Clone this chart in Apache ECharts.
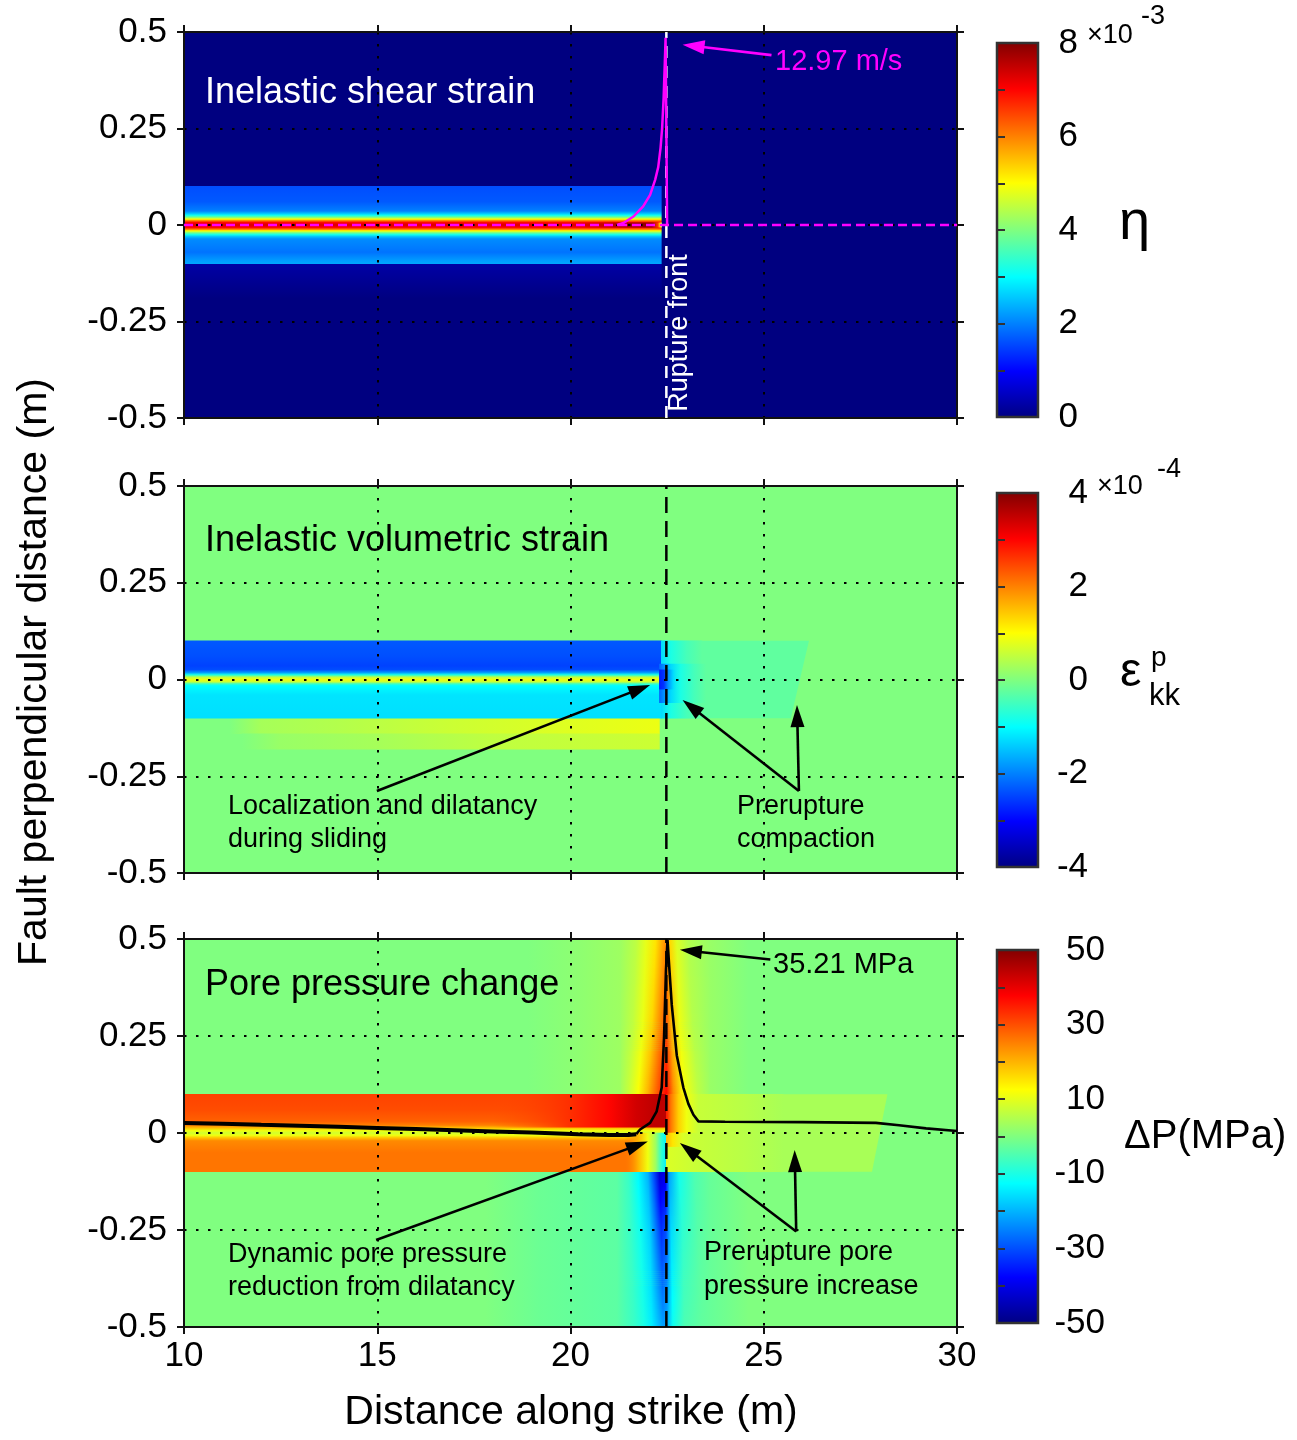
<!DOCTYPE html>
<html><head><meta charset="utf-8">
<script src="https://cdn.jsdelivr.net/npm/echarts@6/dist/echarts.min.js"></script>
<style>html,body{margin:0;padding:0;background:#fff}#c{width:1297px;height:1440px}</style>
</head><body><div id="c"></div><script>
// ---------------- data ----------------
const xRange = [10, 30];
const yRange = [-0.5, 0.5];
const ruptureFront = 22.48;

// colour bar ranges and tick labels
const etaRange = [0, 8];            // x 1e-3
const ekkRange = [-4, 4];           // x 1e-4
const dpRange = [-50, 50];          // MPa
const etaTickLabels = [0, 2, 4, 6, 8];
const ekkTickLabels = [-4, -2, 0, 2, 4];
const dpTickLabels = [-50, -30, -10, 10, 30, 50];

// field patches: ['r',x0,x1,y0,y1,v] | ['q',xTL,xTR,xBR,xBL,yTop,yBot,v]
// ['gx',y0,y1,[[x,v(,alpha)]...]] horizontal profile | ['gy',x0,x1,[[y,v]...]] vertical profile
// ['gxy',yTop,yBot,profileTop,profileBottom] field shaded between two horizontal profiles
const etaPatches = [
  ['r', 10, 30, -0.5, 0.5, 0],
  ['gy', 10, 22.35, [[-0.1, 0.3], [-0.19, 0]]],
  ['gy', 10, 22.35, [[0.1,1.6],[0.06,1.7],[0.036,2.0],[0.03,2.5],[0.025,3.1],[0.02,3.9],[0.015,5.0],[0.011,6.1],[0.006,7.0],[0,7.3],[-0.006,7.0],[-0.011,6.1],[-0.015,5.0],[-0.02,3.9],[-0.025,3.1],[-0.03,2.5],[-0.036,2.1],[-0.07,1.9],[-0.09,2.2],[-0.1,2.3]]],
  ['gx', -0.006, 0.006, [[20.0,7.3,0],[21.4,7.7],[22.1,7.9],[22.25,6.6],[22.32,5.0],[22.36,4.0]]]
];
const ekkPatches = [
  ['r', 10, 30, -0.5, 0.5, 0],
  ['gx', -0.14, -0.1, [[11.2,0],[12,0.3],[14,0.4],[17,0.6],[20,0.75],[22.3,0.85]]],
  ['gx', -0.18, -0.14, [[11.5,0],[12.5,0.2],[15,0.3],[18,0.5],[22.3,0.6]]],
  ['gy', 10, 22.35, [[0.1,-2.3],[0.06,-2.38],[0.035,-2.48],[0.025,-2.4],[0.018,-1.8],[0.012,-0.8],[0.006,0.5],[0,0.9],[-0.006,0.6],[-0.011,-0.5],[-0.016,-1.0],[-0.04,-1.2],[-0.1,-1.25]]],
  ['q', 22.35, 26.17, 25.7, 22.35, 0.1, -0.1, -0.25],
  ['gx', 0.04, 0.1, [[22.35,-1.3],[22.6,-0.8],[23.0,-0.45],[23.4,-0.25]]],
  ['gx', -0.1, -0.06, [[22.35,-1.3],[22.6,-0.8],[23.0,-0.45],[23.4,-0.25]]],
  ['gx', -0.06, 0.04, [[22.3,-2.2],[22.45,-1.8],[22.6,-1.3],[22.85,-0.8],[23.2,-0.45],[23.5,-0.25]]],
  ['gx', -0.025, 0.025, [[22.3,-2.8],[22.42,-2.6],[22.52,-1.9],[22.65,-1.3],[22.8,-0.8,0]]]
];
const dpUpper05 = [[21.3,3],[21.7,6],[21.95,10],[22.2,15],[22.38,21],[22.48,24],[22.58,16],[22.75,9],[23.05,5],[23.6,2.5]];
const dpUpper03 = [[21.3,3.2],[21.62,6.3],[21.88,10.5],[22.12,16.5],[22.33,24],[22.48,29],[22.61,19],[22.82,10.5],[23.15,5.2],[23.6,2.6]];
const dpUpper01 = [[21.3,3.5],[21.5,7],[21.75,12],[22.0,20],[22.25,29],[22.48,37],[22.66,24],[22.92,12],[23.3,6],[23.6,2.8]];
const dpLower01 = [[21.2,-3.5],[21.5,-7],[21.75,-13],[22.0,-20],[22.15,-30],[22.3,-42],[22.45,-40],[22.55,-22],[22.8,-11],[23.2,-5],[23.6,-2.5]];
const dpLower025 = [[21.2,-3.5],[21.55,-7],[21.8,-11],[22.05,-17],[22.2,-25],[22.35,-33],[22.47,-30],[22.6,-16],[22.9,-8],[23.3,-4],[23.6,-2.5]];
const dpLower05 = [[21.2,-3.5],[21.65,-7],[21.9,-10],[22.1,-14],[22.25,-18],[22.4,-22],[22.5,-20],[22.65,-11],[22.95,-5],[23.4,-3],[23.6,-2.5]];
const dpPatches = [
  ['r', 10, 30, -0.5, 0.5, 0],
  ['gx', 0.1, 0.5, [[18.9,0],[20.3,1.5],[21.3,3],[23.6,2.5],[24.6,0]]],
  ['gx', -0.5, -0.1, [[17.8,0],[19.2,-2],[21.2,-3.5],[23.6,-2.5],[24.6,0]]],
  ['gxy', 0.5, 0.3, dpUpper05, dpUpper03],
  ['gxy', 0.3, 0.1, dpUpper03, dpUpper01],
  ['gxy', -0.1, -0.25, dpLower01, dpLower025],
  ['gxy', -0.25, -0.5, dpLower025, dpLower05],
  ['gy', 10, 22.48, [[0.1,31],[0.06,30],[0.03,28],[0.02,25],[0.012,18],[0.006,11],[0,8],[-0.006,11],[-0.012,18],[-0.02,24],[-0.05,26],[-0.1,26]]],
  ['gx', 0.015, 0.1, [[18,30,0],[20,33],[21,37],[21.7,42],[22.2,44],[22.48,44]]],
  ['gx', -0.1, 0, [[21.4,26,0],[21.75,20],[22.0,11],[22.2,3],[22.35,-8],[22.48,-14]]],
  ['q', 22.48, 28.2, 27.8, 22.48, 0.1, -0.1, 4],
  ['gx', -0.1, 0.1, [[22.48,9],[23.3,7],[24.5,5.5],[25.5,4]]],
  ['gx', 0, 0.1, [[22.48,36],[22.6,26],[22.8,17],[23.0,11],[23.3,7]]],
  ['gx', -0.035, 0, [[22.48,20],[22.65,15],[22.9,9],[23.2,7]]]
];

// curves
const slipZeroLine = [[10, 0], [30, 0]];
const slipRateCurve = [[21.2,0],[21.37,0.005],[21.63,0.022],[21.88,0.048],[22.06,0.078],[22.19,0.117],[22.27,0.15],[22.33,0.2],[22.37,0.25],[22.41,0.33],[22.44,0.42],[22.46,0.485],[22.5,0]];
const pressureSliding = [[10,0.026],[11,0.024],[12,0.021],[13,0.019],[14,0.016],[15,0.013],[16,0.010],[17,0.007],[18,0.004],[19,0.001],[20.2,-0.003],[21.0,-0.005],[21.5,-0.005],[21.7,-0.003]];
const pressureFront = [[21.7,-0.003],[21.8,0.009],[22.06,0.026],[22.23,0.056],[22.36,0.117],[22.42,0.245],[22.47,0.42],[22.51,0.497],[22.56,0.42],[22.62,0.33],[22.75,0.2],[22.92,0.117],[23.05,0.075],[23.18,0.047],[23.31,0.03],[24,0.029],[26,0.028],[27.9,0.026],[28.5,0.02],[29.2,0.012],[30,0.005]];

// annotation arrows [xFrom, yFrom, xTo, yTo]
const slipArrows = [[25.2, 0.44, 22.9, 0.467]];
const strainArrows = [[14.99,-0.288,22.06,-0.014],[25.91,-0.288,22.9,-0.053],[25.91,-0.288,25.86,-0.066]];
const pressureArrows = [[14.97,-0.276,22.0,-0.022],[25.84,-0.254,22.83,-0.026],[25.84,-0.254,25.8,-0.044],[25.17,0.447,22.83,0.472]];

// ---------------- drawing ----------------
const jetKnots = [[0,[0,0,0.5]],[0.125,[0,0,1]],[0.375,[0,1,1]],[0.625,[1,1,0]],[0.875,[1,0,0]],[1,[0.5,0,0]]];
function jetRGB(t) {
  t = Math.max(0, Math.min(1, t));
  for (let i = 1; i < jetKnots.length; i++) {
    if (t <= jetKnots[i][0] + 1e-9) {
      const t0 = jetKnots[i-1][0], c0 = jetKnots[i-1][1], t1 = jetKnots[i][0], c1 = jetKnots[i][1];
      const f = (t - t0) / (t1 - t0);
      return c0.map((c, k) => Math.round(255 * (c + (c1[k] - c) * f)));
    }
  }
  return [128, 0, 0];
}
function jet(t, alpha) {
  const c = jetRGB(t);
  return 'rgba(' + c.join(',') + ',' + (alpha === undefined ? 1 : alpha) + ')';
}
function fieldRenderer(patches, range) {
  const col = (v, a) => jet((v - range[0]) / (range[1] - range[0]), a);
  const rectOf = (a, b) => ({x: a[0] - 0.3, y: a[1] - 0.3, width: b[0] - a[0] + 0.6, height: b[1] - a[1] + 0.6});
  const gradX = (s) => {
    const xs = s[0][0], xe = s[s.length - 1][0];
    return new echarts.graphic.LinearGradient(0, 0, 1, 0, s.map(q => ({offset: (q[0] - xs) / (xe - xs), color: col(q[1], q[2])})));
  };
  return function (params, api) {
    const p = patches[api.value(2)];
    if (p[0] === 'r') {
      return {type: 'rect', shape: rectOf(api.coord([p[1], p[4]]), api.coord([p[2], p[3]])), style: {fill: col(p[5])}};
    }
    if (p[0] === 'q') {
      const pts = [api.coord([p[1], p[5]]), api.coord([p[2], p[5]]), api.coord([p[3], p[6]]), api.coord([p[4], p[6]])];
      return {type: 'polygon', shape: {points: pts}, style: {fill: col(p[7])}};
    }
    if (p[0] === 'gx') {
      const s = p[3], xs = s[0][0], xe = s[s.length - 1][0];
      return {type: 'rect', shape: rectOf(api.coord([xs, p[2]]), api.coord([xe, p[1]])), style: {fill: gradX(s)}};
    }
    if (p[0] === 'gy') {
      const s = p[3], ys = s.map(q => q[0]), yt = Math.max.apply(null, ys), yb = Math.min.apply(null, ys);
      const stops = s.map(q => ({offset: (yt - q[0]) / (yt - yb), color: col(q[1], q[2])})).sort((a, b) => a.offset - b.offset);
      const g = new echarts.graphic.LinearGradient(0, 0, 0, 1, stops);
      return {type: 'rect', shape: rectOf(api.coord([p[1], yt]), api.coord([p[2], yb])), style: {fill: g}};
    }
    if (p[0] === 'gxy') {
      const sT = p[3], sB = p[4];
      const top = api.coord([xRange[0], p[1]])[1], bot = api.coord([xRange[0], p[2]])[1];
      const n = Math.max(2, Math.round((bot - top) / 2));
      const children = [];
      for (let k = 0; k < n; k++) {
        const f = (k + 0.5) / n;
        const s = sT.map((q, j) => [q[0] + (sB[j][0] - q[0]) * f, q[1] + (sB[j][1] - q[1]) * f]);
        const a = api.coord([s[0][0], p[1]]), b = api.coord([s[s.length - 1][0], p[1]]);
        const y0 = top + (bot - top) * k / n;
        children.push({type: 'rect', shape: {x: a[0], y: y0 - 0.3, width: b[0] - a[0], height: (bot - top) / n + 0.6}, style: {fill: gradX(s)}});
      }
      return {type: 'group', children: children};
    }
  };
}
function arrowRenderer(list, color, headLen, headW) {
  return function (params, api) {
    const a = list[api.value(2)];
    const p0 = api.coord([a[0], a[1]]), p1 = api.coord([a[2], a[3]]);
    const dx = p1[0] - p0[0], dy = p1[1] - p0[1], L = Math.hypot(dx, dy);
    const ux = dx / L, uy = dy / L, nx = -uy, ny = ux;
    const bx = p1[0] - ux * headLen, by = p1[1] - uy * headLen;
    return {type: 'group', children: [
      {type: 'line', shape: {x1: p0[0], y1: p0[1], x2: bx + ux * 2, y2: by + uy * 2}, style: {stroke: color, lineWidth: 2.6}},
      {type: 'polygon', shape: {points: [[p1[0], p1[1]], [bx + nx * headW / 2, by + ny * headW / 2], [bx - nx * headW / 2, by - ny * headW / 2]]}, style: {fill: color}}
    ]};
  };
}

const FONT = "'Liberation Sans', Arial, Helvetica, sans-serif";
const mainGrids = [{top: 32, height: 386}, {top: 486, height: 387}, {top: 939, height: 388}];
const cbGrids = [{top: 43, height: 374}, {top: 493, height: 374}, {top: 950, height: 373}];
const panels = [
  {patches: etaPatches, range: etaRange, labels: etaTickLabels, interval: 1, margin: 40},
  {patches: ekkPatches, range: ekkRange, labels: ekkTickLabels, interval: 1, margin: 50},
  {patches: dpPatches, range: dpRange, labels: dpTickLabels, interval: 10, margin: 67}
];

const grid = [], xAxis = [], yAxis = [], series = [];
const axisLineStyle = {color: '#111', width: 2};
mainGrids.forEach(g => grid.push({left: 184, width: 773, top: g.top, height: g.height, outerBoundsMode: 'none', containLabel: false}));
cbGrids.forEach(g => grid.push({left: 997, width: 41, top: g.top, height: g.height, outerBoundsMode: 'none', containLabel: false}));

for (let i = 0; i < 3; i++) {
  xAxis.push({type: 'value', gridIndex: i, min: xRange[0], max: xRange[1], interval: 5, position: 'bottom', z: 4,
    axisLine: {show: true, onZero: false, lineStyle: axisLineStyle},
    axisTick: {show: true, inside: false, length: 7, lineStyle: axisLineStyle},
    axisLabel: {show: i === 2, fontSize: 35, fontFamily: FONT, color: '#000', margin: 12},
    splitLine: {show: true, lineStyle: {color: '#000', width: 2, type: [2.5, 9.5]}}});
}
for (let i = 0; i < 3; i++) {
  xAxis.push({type: 'value', gridIndex: i, min: xRange[0], max: xRange[1], interval: 5, position: 'top', z: 4,
    axisLine: {show: true, onZero: false, lineStyle: axisLineStyle},
    axisTick: {show: true, inside: false, length: 7, lineStyle: axisLineStyle},
    axisLabel: {show: false}, splitLine: {show: false}});
}
for (let i = 0; i < 3; i++) {
  xAxis.push({type: 'value', gridIndex: 3 + i, min: 0, max: 1, show: false});
}
for (let i = 0; i < 3; i++) {
  yAxis.push({type: 'value', gridIndex: i, min: yRange[0], max: yRange[1], interval: 0.25, position: 'left', z: 4,
    axisLine: {show: true, onZero: false, lineStyle: axisLineStyle},
    axisTick: {show: true, inside: false, length: 7, lineStyle: axisLineStyle},
    axisLabel: {show: true, fontSize: 35, fontFamily: FONT, color: '#000', margin: 17},
    splitLine: {show: true, lineStyle: {color: '#000', width: 2, type: [2.5, 9.5]}}});
}
for (let i = 0; i < 3; i++) {
  yAxis.push({type: 'value', gridIndex: i, min: yRange[0], max: yRange[1], interval: 0.25, position: 'right', z: 4,
    axisLine: {show: true, onZero: false, lineStyle: axisLineStyle},
    axisTick: {show: true, inside: false, length: 7, lineStyle: axisLineStyle},
    axisLabel: {show: false}, splitLine: {show: false}});
}
panels.forEach((p, i) => {
  yAxis.push({type: 'value', gridIndex: 3 + i, min: p.range[0], max: p.range[1], interval: p.interval, position: 'right', z: 4,
    axisLine: {show: false},
    axisTick: {show: true, inside: false, length: 8, lineStyle: {color: '#333', width: 2}},
    axisLabel: {show: true, fontSize: 35, fontFamily: FONT, color: '#000', margin: p.margin, align: 'right',
      formatter: v => (p.labels.indexOf(Math.round(v)) >= 0 ? String(Math.round(v)) : '')},
    splitLine: {show: false}});
});

// fields
panels.forEach((p, i) => {
  series.push({type: 'custom', xAxisIndex: i, yAxisIndex: i, z: 1, clip: true, silent: true,
    dimensions: ['x', 'y', 'idx'], encode: {x: 0, y: 1},
    data: p.patches.map((q, k) => [20, 0, k]), renderItem: fieldRenderer(p.patches, p.range)});
});
// colour bars
panels.forEach((p, i) => {
  series.push({type: 'custom', xAxisIndex: 6 + i, yAxisIndex: 6 + i, z: 1, silent: true,
    data: [[0.5, (p.range[0] + p.range[1]) / 2, 0]],
    renderItem: function (params, api) {
      const a = api.coord([0, p.range[1]]), b = api.coord([1, p.range[0]]);
      const stops = jetKnots.map(k => ({offset: 1 - k[0], color: jet(k[0])})).sort((u, v) => u.offset - v.offset);
      return {type: 'rect', shape: {x: a[0], y: a[1], width: b[0] - a[0], height: b[1] - a[1]},
        style: {fill: new echarts.graphic.LinearGradient(0, 0, 0, 1, stops), stroke: '#333', lineWidth: 2.5}};
    }});
});
// lines
const lineBase = {type: 'line', symbol: 'none', silent: true, animation: false, smooth: false};
series.push(Object.assign({}, lineBase, {xAxisIndex: 0, yAxisIndex: 0, z: 6, data: [[ruptureFront, -0.5], [ruptureFront, 0.5]], lineStyle: {color: '#fff', width: 2.5, type: [12, 8]}}));
series.push(Object.assign({}, lineBase, {xAxisIndex: 0, yAxisIndex: 0, z: 7, data: slipZeroLine, lineStyle: {color: '#ff00ff', width: 2.5, type: [9, 5]}}));
series.push(Object.assign({}, lineBase, {xAxisIndex: 0, yAxisIndex: 0, z: 8, data: slipRateCurve, lineStyle: {color: '#ff00ff', width: 2.5}}));
series.push(Object.assign({}, lineBase, {xAxisIndex: 1, yAxisIndex: 1, z: 6, data: [[ruptureFront, -0.5], [ruptureFront, 0.5]], lineStyle: {color: '#000', width: 2.5, type: [16, 8]}}));
series.push(Object.assign({}, lineBase, {xAxisIndex: 2, yAxisIndex: 2, z: 6, data: [[ruptureFront, -0.5], [ruptureFront, 0.5]], lineStyle: {color: '#000', width: 2.5, type: [16, 8]}}));
series.push(Object.assign({}, lineBase, {xAxisIndex: 2, yAxisIndex: 2, z: 8, data: pressureSliding, lineStyle: {color: '#000', width: 4}}));
series.push(Object.assign({}, lineBase, {xAxisIndex: 2, yAxisIndex: 2, z: 8, data: pressureFront, lineStyle: {color: '#000', width: 2.6}}));
// arrows
[[slipArrows, 0, '#ff00ff'], [strainArrows, 1, '#000'], [pressureArrows, 2, '#000']].forEach(([list, gi, c]) => {
  series.push({type: 'custom', xAxisIndex: gi, yAxisIndex: gi, z: 9, silent: true, clip: false,
    data: list.map((a, k) => [a[0], a[1], k]), renderItem: arrowRenderer(list, c, 22, 14)});
});

function txt(x, y, text, size, color, extra) {
  const e = {type: 'text', x: x, y: y, z: 100, silent: true,
    style: {text: text, font: size + 'px ' + FONT, fill: color, align: 'left', verticalAlign: 'middle'}};
  if (extra) { if (extra.align) e.style.align = extra.align; if (extra.rotation) e.rotation = extra.rotation; }
  return e;
}
const graphic = [
  txt(205, 93, 'Inelastic shear strain', 36, '#fff'),
  txt(205, 541, 'Inelastic volumetric strain', 36, '#000'),
  txt(205, 985, 'Pore pressure change', 36, '#000'),
  txt(775, 62, '12.97 m/s', 29, '#ff00ff'),
  txt(680, 333, 'Rupture front', 27, '#fff', {align: 'center', rotation: Math.PI / 2}),
  txt(228, 807, 'Localization and dilatancy', 27, '#000'),
  txt(228, 840, 'during sliding', 27, '#000'),
  txt(737, 807, 'Prerupture', 27, '#000'),
  txt(737, 840, 'compaction', 27, '#000'),
  txt(773, 965, '35.21 MPa', 29, '#000'),
  txt(228, 1255, 'Dynamic pore pressure', 27, '#000'),
  txt(228, 1288, 'reduction from dilatancy', 27, '#000'),
  txt(704, 1253, 'Prerupture pore', 27, '#000'),
  txt(704, 1287, 'pressure increase', 27, '#000'),
  txt(571, 1413, 'Distance along strike (m)', 41, '#000', {align: 'center'}),
  txt(35, 672, 'Fault perpendicular distance (m)', 41, '#000', {align: 'center', rotation: Math.PI / 2}),
  txt(1087, 36, '×10', 27, '#000'),
  txt(1141, 17, '-3', 27, '#000'),
  txt(1097, 487, '×10', 27, '#000'),
  txt(1157, 470, '-4', 27, '#000'),
  txt(1119, 224, 'η', 56, '#000'),
  txt(1120, 673, 'ε', 48, '#000'),
  txt(1151, 658, 'p', 28, '#000'),
  txt(1149, 696, 'kk', 31, '#000'),
  txt(1124, 1137, 'ΔP(MPa)', 40, '#000')
];

const chart = echarts.init(document.getElementById('c'), null, {renderer: 'canvas'});
chart.setOption({animation: false, backgroundColor: '#fff', grid: grid, xAxis: xAxis, yAxis: yAxis, series: series, graphic: graphic});
</script></body></html>
